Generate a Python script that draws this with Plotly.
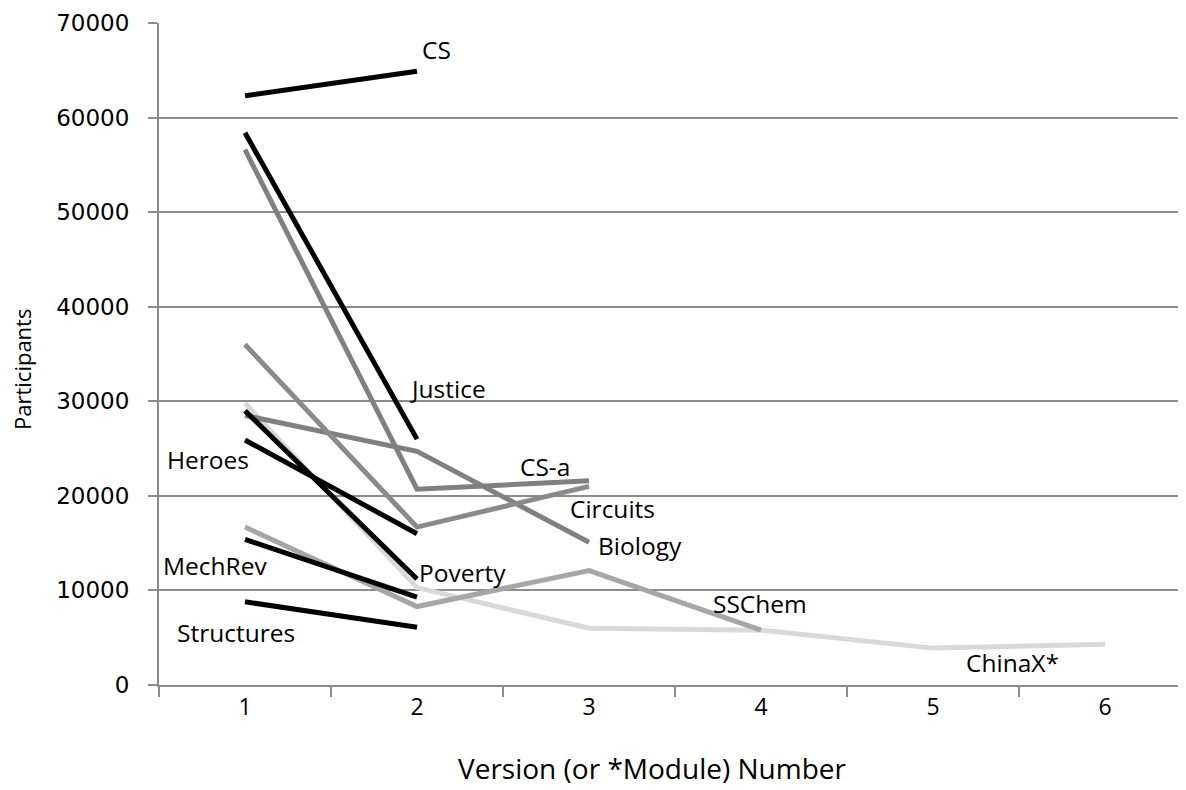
import plotly.graph_objects as go

versions = [1, 2, 3, 4, 5, 6]
y_ticks = [0, 10000, 20000, 30000, 40000, 50000, 60000, 70000]

cs = [62300, 64900]
justice = [58400, 26000]
cs_a = [56600, 20700, 21600]
circuits = [36000, 16700, 21000]
biology = [28500, 24700, 15100]
heroes = [25900, 16000]
poverty = [29000, 11200]
chinax = [29800, 10300, 6000, 5800, 3900, 4300]
sschem = [16700, 8300, 12100, 5800]
mechrev = [15400, 9300]
structures = [8800, 6100]

series = [
    ("ChinaX*", chinax, "#d9d9d9"),
    ("SSChem", sschem, "#a6a6a6"),
    ("Biology", biology, "#808080"),
    ("Circuits", circuits, "#8a8a8a"),
    ("CS-a", cs_a, "#808080"),
    ("CS", cs, "#000000"),
    ("Justice", justice, "#000000"),
    ("Heroes", heroes, "#000000"),
    ("Poverty", poverty, "#000000"),
    ("MechRev", mechrev, "#000000"),
    ("Structures", structures, "#000000"),
]

labels = {
    "CS": (2.02, 67250),
    "Justice": (1.948, 31400),
    "Heroes": (0.535, 23800),
    "CS-a": (2.587, 23150),
    "Circuits": (2.878, 18700),
    "Biology": (3.04, 14700),
    "Poverty": (2.0, 11850),
    "MechRev": (0.512, 12600),
    "SSChem": (3.71, 8670),
    "Structures": (0.593, 5600),
    "ChinaX*": (5.18, 2430),
}

# page body has an 8px default margin
OFF = 8
L, T, B = 159 - OFF, 23 - OFF, 105
W, H = 1186 - OFF, 790 - OFF
PW, PH = W - L, H - T - B

fig = go.Figure()
for name, vals, color in series:
    fig.add_trace(go.Scatter(
        x=versions[:len(vals)], y=vals, mode="lines", name=name,
        line=dict(color=color, width=5), showlegend=False,
    ))

font = "Open Sans"
for name, (lx, ly) in labels.items():
    fig.add_annotation(x=lx, y=ly, text=name, showarrow=False, xanchor="left",
                       yanchor="middle", font=dict(family=font, size=24.5, color="#000"))

fig.add_annotation(xref="paper", yref="paper", x=(652 - 159) / PW, y=-(768 - 685) / PH,
                   text="Version (or *Module) Number", showarrow=False,
                   xanchor="center", yanchor="middle", font=dict(family=font, size=28, color="#000"))
fig.add_annotation(xref="paper", yref="paper", x=-(159 - 22) / PW, y=(685 - 370) / PH,
                   text="Participants", showarrow=False, textangle=-90,
                   xanchor="center", yanchor="middle", font=dict(family=font, size=22, color="#000"))

fig.update_layout(
    width=W, height=H,
    margin=dict(l=L, r=0, t=T, b=B),
    paper_bgcolor="white", plot_bgcolor="white",
    xaxis=dict(
        range=[0.5, 6.5 - 5 / 172], tickmode="array", tickvals=versions,
        ticktext=[str(v) for v in versions], ticks="", showgrid=False, zeroline=False,
        showline=True, linecolor="#8c8c8c", linewidth=2,
        tickfont=dict(family=font, size=23, color="#000"), ticklabelstandoff=0,
        minor=dict(tick0=0.5, dtick=1, ticks="outside", ticklen=10, tickcolor="#8c8c8c", tickwidth=2),
    ),
    yaxis=dict(
        range=[0, 70000], tickmode="array", tickvals=y_ticks,
        ticktext=[str(v) for v in y_ticks],
        ticks="outside", ticklen=9, tickcolor="#8c8c8c", tickwidth=2,
        showgrid=True, gridcolor="#8c8c8c", gridwidth=2, zeroline=False,
        showline=True, linecolor="#8c8c8c", linewidth=2,
        tickfont=dict(family="DejaVu Sans", size=23, color="#000"), ticklabelstandoff=14,
    ),
)

fig.write_html("out.html")
